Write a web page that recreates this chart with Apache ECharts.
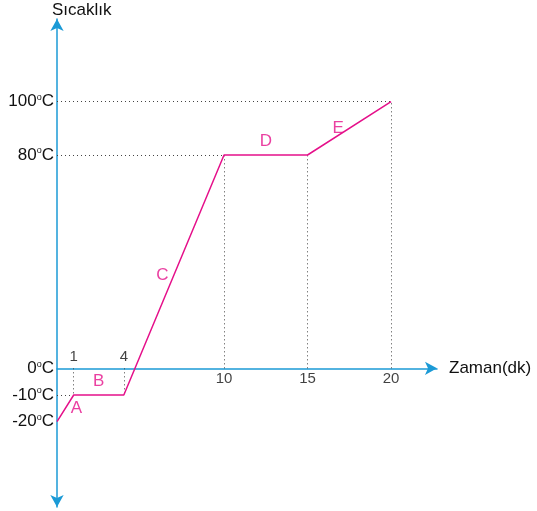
<!DOCTYPE html>
<html>
<head>
<meta charset="utf-8">
<script src="https://cdn.jsdelivr.net/npm/echarts@6/dist/echarts.min.js"></script>
<style>
  html, body { margin: 0; padding: 0; background: #fff; }
  #chart { width: 537px; height: 511px; }
</style>
</head>
<body>
<div id="chart"></div>
<script>
// heating curve: time (min) vs temperature (°C)
const times = [0, 1, 4, 10, 15, 20];
const temps = [-20, -10, -10, 80, 80, 100];
const segmentNames = ['A', 'B', 'C', 'D', 'E'];
const xTickLabels = [1, 4, 10, 15, 20];
const yTickValues = [-20, -10, 0, 80, 100];

const BLUE = '#1b9ad6';
const PINK = '#e5108a';
const FONT = '"Liberation Sans", Arial, sans-serif';

const chart = echarts.init(document.getElementById('chart'));

const curve = times.map((t, i) => [t, temps[i]]);

// dotted guides from each point to both axes
const guides = [];
times.forEach((t, i) => {
  if (t === 0) return;
  guides.push([{ coord: [t, 0] }, { coord: [t, temps[i]] }]);
  if (temps.indexOf(temps[i]) === i) {
    guides.push([{ coord: [0, temps[i]] }, { coord: [t, temps[i]] }]);
  }
});

const tempAt = (t) => temps[times.indexOf(t)];
const xLabelData = xTickLabels.map((t) => ({
  value: [t, 0],
  label: { position: tempAt(t) < 0 ? 'top' : 'bottom' },
}));

const segPlacement = ['right', 'top', 'left', 'top', 'left'];
const segData = segmentNames.map((name, i) => ({
  name,
  value: [(times[i] + times[i + 1]) / 2, (temps[i] + temps[i + 1]) / 2],
  label: { position: segPlacement[i] },
}));

const option = {
  animation: false,
  textStyle: { fontFamily: FONT },
  grid: { left: 57, right: 100, top: 19, bottom: 4 },
  xAxis: {
    type: 'value',
    min: 0,
    max: 22.75,
    name: 'Zaman(dk)',
    nameLocation: 'end',
    nameGap: 12,
    nameTextStyle: { color: '#111', fontSize: 17, fontFamily: FONT },
    axisLine: { lineStyle: { color: BLUE, width: 1.5 }, symbol: ['none', 'arrow'], symbolSize: [10, 12] },
    axisTick: { show: false },
    axisLabel: { show: false },
    splitLine: { show: false },
  },
  yAxis: {
    type: 'value',
    min: -52,
    max: 131,
    name: 'Sıcaklık',
    nameLocation: 'end',
    nameGap: 0,
    nameTextStyle: { color: '#111', fontSize: 17, fontFamily: FONT, align: 'left', padding: [0, 0, 0, -5] },
    axisLine: { lineStyle: { color: BLUE, width: 1.5 }, symbol: ['arrow', 'arrow'], symbolSize: [10, 12] },
    axisTick: { show: false },
    splitLine: { show: false },
    axisLabel: {
      customValues: yTickValues,
      margin: 3,
      formatter: (v) => '{n|' + v + '}{s|o}{n|C}',
      rich: {
        n: { color: '#111', fontSize: 17, fontFamily: FONT },
        s: { color: '#111', fontSize: 9, fontFamily: FONT, padding: [0, 0, 8, 0] },
      },
    },
  },
  series: [
    {
      type: 'line',
      data: curve,
      symbol: 'none',
      lineStyle: { color: PINK, width: 1.5 },
      z: 5,
      markLine: {
        silent: true,
        symbol: 'none',
        label: { show: false },
        lineStyle: { color: '#444', type: [1, 3], width: 1 },
        data: guides,
      },
    },
    {
      type: 'scatter',
      data: xLabelData,
      symbolSize: 1,
      itemStyle: { color: 'rgba(0,0,0,0)' },
      label: {
        show: true,
        distance: 3,
        color: '#111',
        fontSize: 15,
        fontFamily: FONT,
        formatter: (p) => String(p.value[0]),
      },
    },
    {
      type: 'scatter',
      data: segData,
      symbolSize: 1,
      itemStyle: { color: 'rgba(0,0,0,0)' },
      label: {
        show: true,
        distance: 5,
        color: PINK,
        fontSize: 17,
        fontFamily: FONT,
        formatter: '{b}',
      },
    },
  ],
};

chart.setOption(option);
</script>
</body>
</html>
